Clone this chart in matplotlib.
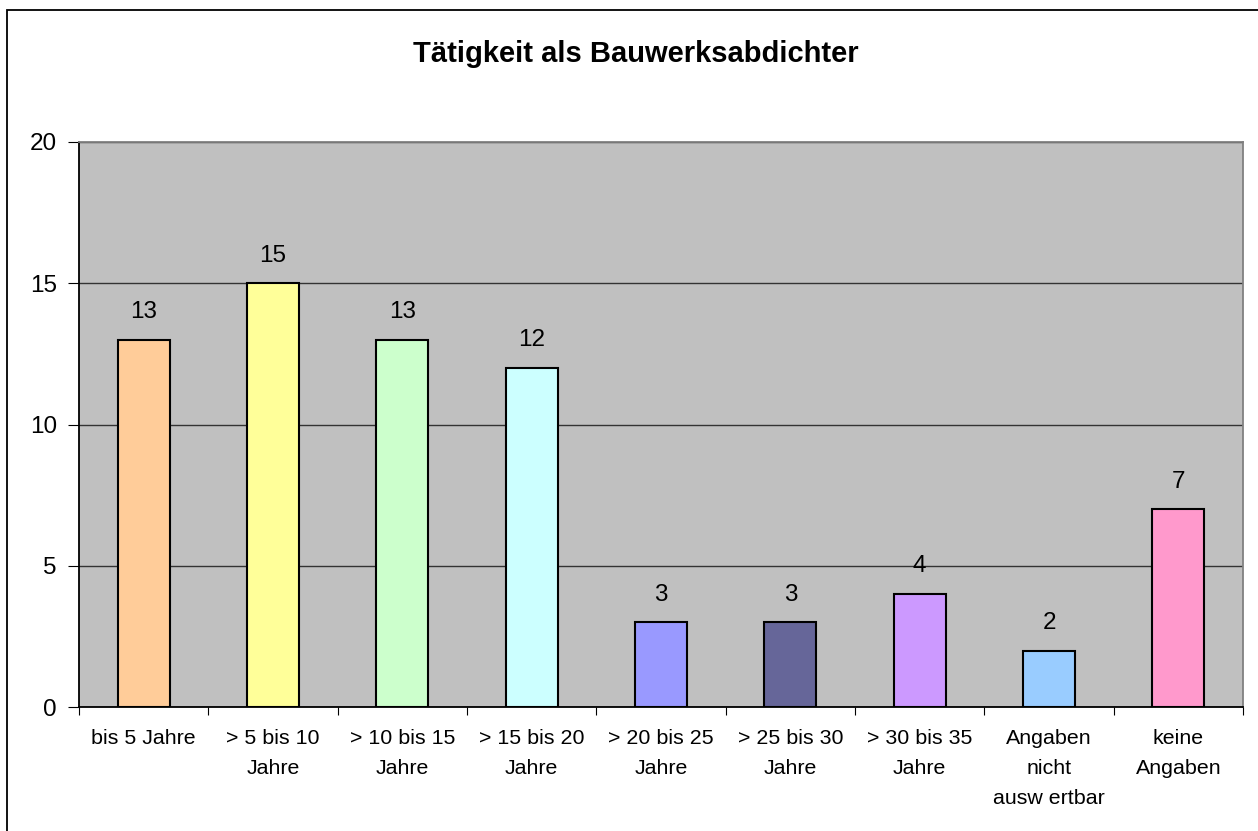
import matplotlib.pyplot as plt
import matplotlib.patches as mpatches
import numpy as np

plt.rcParams['font.family'] = ['Liberation Sans', 'DejaVu Sans']

categories = ["bis 5 Jahre", "> 5 bis 10\nJahre", "> 10 bis 15\nJahre", "> 15 bis 20\nJahre",
              "> 20 bis 25\nJahre", "> 25 bis 30\nJahre", "> 30 bis 35\nJahre",
              "Angaben\nnicht\nausw ertbar", "keine\nAngaben"]
values = [13, 15, 13, 12, 3, 3, 4, 2, 7]
colors = ["#FFCC99", "#FFFF99", "#CCFFCC", "#CCFFFF", "#9999FF", "#666699",
          "#CC99FF", "#99CCFF", "#FF99CC"]
yticks = [0, 5, 10, 15, 20]

W, H = 1258, 831
fig = plt.figure(figsize=(W / 100, H / 100), dpi=100)

# outer chart border (only left and top are inside the picture)
fig.patches.append(mpatches.Rectangle((7 / W, -0.05), 1.2, 1 - 10 / H + 0.05,
                                      transform=fig.transFigure, fill=False,
                                      ec='black', lw=1.3))

ax = fig.add_axes([79 / W, 1 - 707 / H, (1243 - 79) / W, (707 - 142) / H])
ax.set_facecolor("#C0C0C0")

x = np.arange(len(values))
ax.bar(x, values, width=0.4, color=colors, edgecolor='black', linewidth=1.5, zorder=3)
for xi, v in zip(x, values):
    ax.annotate(str(v), (xi, v), xytext=(0, 12), textcoords='offset points',
                ha='center', va='bottom', fontsize=17.5, zorder=4)

ax.set_xlim(-0.5, len(values) - 0.5)
ax.set_ylim(0, 20)
ax.set_yticks(yticks)
ax.set_yticklabels([str(t) for t in yticks], fontsize=17.5)
ax.yaxis.grid(True, color='#333333', lw=1.0, zorder=1)

ax.set_xticks(np.arange(-0.5, len(values), 1.0))
ax.set_xticklabels([])
ax.set_xticks(x, minor=True)
ax.set_xticklabels(categories, minor=True, fontsize=15.4, linespacing=1.72, va='top')
ax.tick_params(axis='x', which='minor', length=0, pad=16)
ax.tick_params(axis='x', which='major', length=6, direction='out', color='black')
ax.tick_params(axis='y', length=8, direction='out', pad=8)

ax.spines['left'].set_color('black')
ax.spines['bottom'].set_color('black')
ax.spines['top'].set_color('#808080')
ax.spines['right'].set_color('#808080')
for s in ax.spines.values():
    s.set_linewidth(1.3)

fig.text(636 / W, 1 - 54 / H, "Tätigkeit als Bauwerksabdichter",
         ha='center', va='center', fontsize=21, fontweight='bold')

fig.savefig("out.png", dpi=100)
